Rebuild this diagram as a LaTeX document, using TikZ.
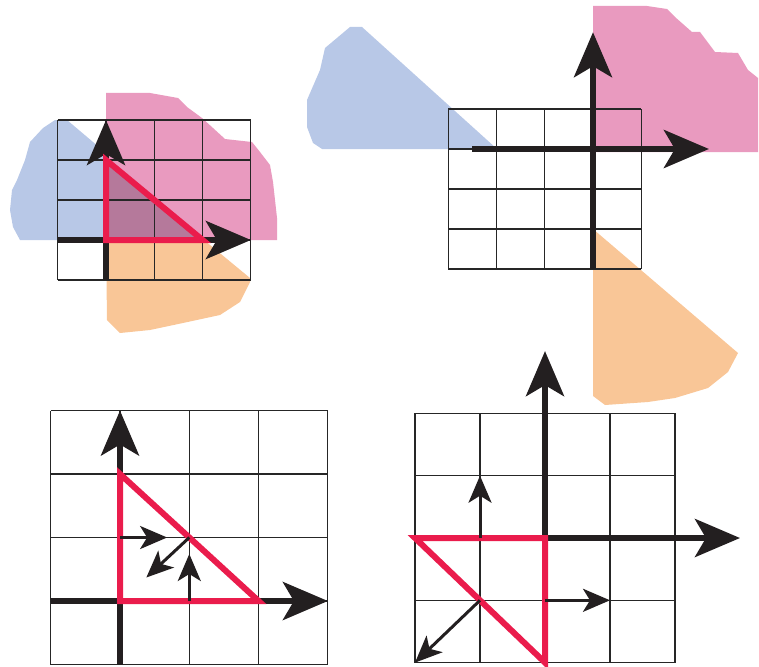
\documentclass[tikz,border=0pt]{standalone}
\usepackage{xcolor}
\usetikzlibrary{arrows.meta}
\definecolor{fanpink}{RGB}{233,154,191}
\definecolor{fanblue}{RGB}{184,200,231}
\definecolor{fanorange}{RGB}{249,198,151}
\definecolor{overlap}{RGB}{181,121,155}
\definecolor{trired}{RGB}{234,28,76}
\definecolor{ink}{RGB}{35,31,32}

\begin{document}
\begin{tikzpicture}[x=1pt, y=-1pt,
    gridline/.style={black!85, line width=1.1pt},
    axis/.style={ink, line width=6pt, -{Stealth[length=45pt, width=38pt, inset=11pt]}},
    small/.style={ink, line width=3pt, -{Stealth[length=27pt, width=23pt, inset=7pt]}},
    tri/.style={trired, line width=6pt}]
\useasboundingbox (0,0) rectangle (759,666);

\fill[fanpink] (106,93) -- (150,93) -- (178,98) -- (187,107) -- (202,118) -- (213,128) -- (225,139) -- (252,142) -- (260,152) -- (270,165) -- (273,182) -- (277,218) -- (277,240) -- (106,240) -- cycle;
\fill[fanblue] (67,120) -- (106,153) -- (106,240) -- (20,240) -- (13,227) -- (10,210) -- (12,190) -- (17,180) -- (25,160) -- (30,142) -- (43,128) -- (55,120) -- cycle;
\fill[fanorange] (106,240) -- (204,240) -- (250,278) -- (250,282) -- (240,302) -- (220,315) -- (183,323) -- (150,330) -- (120,333) -- (107,320) -- cycle;
\begin{scope}[shift={(106,240)}, x=48.3pt, y=40pt]
  \coordinate (a0) at (0,0);
  \coordinate (a1) at (0,2);
  \coordinate (a2) at (2,0);
  \fill[overlap] (a0) -- (a1) -- (a2) -- cycle;
  \foreach \i in {-1,...,3} \draw[gridline] (\i,-1) -- (\i,3) (-1,\i) -- (3,\i);
  \draw[axis] (-1,0) -- (3,0);
  \draw[axis] (0,-1) -- (0,3);
  \draw[tri] (a0) -- (a1) -- (a2) -- cycle;
\end{scope}

\fill[fanpink] (593,6) -- (647,6) -- (667,9) -- (675,17) -- (692,32) -- (700,32) -- (715,52) -- (738,53) -- (748,70) -- (758,78) -- (758,152) -- (593,152) -- cycle;
\fill[fanblue] (497,149) -- (362,27) -- (350,27) -- (325,48) -- (320,70) -- (307,100) -- (307,127) -- (313,143) -- (322,149) -- cycle;
\fill[fanorange] (593,229) -- (738,353) -- (728,372) -- (708,388) -- (675,398) -- (648,402) -- (605,405) -- (593,396) -- cycle;
\begin{scope}[shift={(593,149)}, x=48.3pt, y=40pt]
  \foreach \i in {-3,...,1} \draw[gridline] (\i,-3) -- (\i,1) (-3,\i) -- (1,\i);
  \draw[axis] (-2.5,0) -- (2.4,0);
  \draw[axis] (0,-3) -- (0,2.92);
\end{scope}

\begin{scope}[shift={(120,601)}, x=69.3pt, y=63.5pt]
  \coordinate (b0) at (0,0);
  \coordinate (b1) at (0,2);
  \coordinate (b2) at (2,0);
  \foreach \i in {-1,...,3} \draw[gridline] (\i,-1) -- (\i,3) (-1,\i) -- (3,\i);
  \draw[axis] (-1,0) -- (3,0);
  \draw[axis] (0,-1) -- (0,3);
  \draw[tri] (b0) -- (b1) -- (b2) -- cycle;
  \coordinate (bl) at (0,1);
  \coordinate (bh) at (1,1);
  \coordinate (bb) at (1,0);
  \draw[small] (bl) -- +(0.68,0);
  \draw[small] (bh) -- +(-0.62,-0.63);
  \draw[small] (bb) -- +(0,0.74);
\end{scope}

\begin{scope}[shift={(545,538)}, x=65pt, y=62.3pt]
  \coordinate (c0) at (0,0);
  \coordinate (c1) at (-2,0);
  \coordinate (c2) at (0,-2);
  \foreach \i in {-2,...,2} \draw[gridline] (\i,-2) -- (\i,2) (-2,\i) -- (2,\i);
  \draw[axis] (c0) -- (3,0);
  \draw[axis] (c0) -- (0,3);
  \draw[tri] (c0) -- (c1) -- (c2) -- cycle;
  \coordinate (ct) at (-1,0);
  \coordinate (cr) at (0,-1);
  \coordinate (ch) at (-1,-1);
  \draw[small] (ct) -- +(0,1);
  \draw[small] (cr) -- +(1,0);
  \draw[small] (ch) -- +(-1,-1);
\end{scope}
\end{tikzpicture}
\end{document}
